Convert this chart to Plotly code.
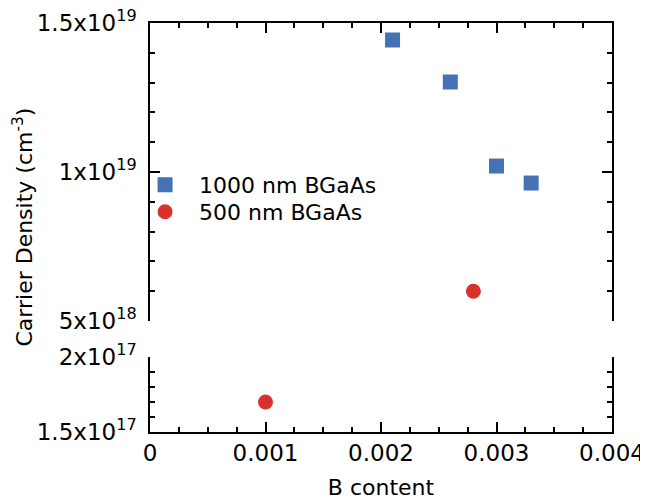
import plotly.graph_objects as go

# Data
b_1000 = [0.0021, 0.0026, 0.0030, 0.0033]
n_1000 = [1.443e19, 1.302e19, 1.02e19, 9.63e18]
b_500 = [0.0010, 0.0028]
n_500 = [1.70e17, 6.0e18]

x_ticks = [0, 0.001, 0.002, 0.003, 0.004]
x_ticktext = ["0", "0.001", "0.002", "0.003", "0.004"]
top_ticks = [5e18, 1e19, 1.5e19]
top_ticktext = ["5x10<sup>18</sup>", "1x10<sup>19</sup>", "1.5x10<sup>19</sup>"]
bot_ticks = [1.5e17, 2e17]
bot_ticktext = ["1.5x10<sup>17</sup>", "2x10<sup>17</sup>"]

BLUE = "#4472b4"
RED = "#d9312b"
FONT = "DejaVu Sans"
FS = 22
FT = 23

def split(xs, ys, lo, hi):
    px, py = [], []
    for a, b in zip(xs, ys):
        if lo <= b <= hi:
            px.append(a); py.append(b)
    return px, py

fig = go.Figure()
# top panel
tx, ty = split(b_1000, n_1000, 5e18, 1.5e19)
fig.add_trace(go.Scatter(x=tx, y=ty, mode="markers", name="1000 nm BGaAs",
                         marker=dict(symbol="square", size=15, color=BLUE),
                         xaxis="x2", yaxis="y2", legendgroup="a", legend="legend"))
tx, ty = split(b_500, n_500, 5e18, 1.5e19)
fig.add_trace(go.Scatter(x=tx, y=ty, mode="markers", name="500 nm BGaAs",
                         marker=dict(symbol="circle", size=15, color=RED),
                         xaxis="x2", yaxis="y2", legendgroup="b", legend="legend2"))
# bottom panel
bx, by = split(b_1000, n_1000, 1.5e17, 2e17)
fig.add_trace(go.Scatter(x=bx, y=by, mode="markers", name="1000 nm BGaAs",
                         marker=dict(symbol="square", size=15, color=BLUE),
                         xaxis="x", yaxis="y", legendgroup="a", showlegend=False))
bx, by = split(b_500, n_500, 1.5e17, 2e17)
fig.add_trace(go.Scatter(x=bx, y=by, mode="markers", name="500 nm BGaAs",
                         marker=dict(symbol="circle", size=15, color=RED),
                         xaxis="x", yaxis="y", legendgroup="b", showlegend=False))

axis_common = dict(showline=True, linecolor="black", linewidth=1.5,
                   ticks="inside", tickcolor="black", tickwidth=1.5, ticklen=10,
                   showgrid=False, zeroline=False, automargin=False,
                   ticklabeloverflow="allow",
                   tickfont=dict(family=FONT, size=FT, color="black"))

legend_common = dict(xanchor="left", yanchor="middle", bgcolor="rgba(0,0,0,0)",
                     font=dict(family=FONT, size=FS), itemwidth=58)

fig.update_layout(
    width=640, height=495,
    paper_bgcolor="white", plot_bgcolor="white",
    margin=dict(l=142, r=36, t=15, b=71),
    font=dict(family=FONT, size=FS, color="black"),
    xaxis=dict(**axis_common, range=[0, 0.004], tickmode="array",
               tickvals=x_ticks, ticktext=x_ticktext, anchor="y",
               minor=dict(tickmode="linear", tick0=0, dtick=0.00025, ticks="inside",
                          ticklen=5, tickcolor="black", tickwidth=1.5),
               title=dict(text="B content", font=dict(family=FONT, size=FS), standoff=14)),
    xaxis2=dict(**axis_common, range=[0, 0.004], tickmode="array",
                tickvals=x_ticks, showticklabels=False, anchor="y2", side="top",
                matches="x",
                minor=dict(tickmode="linear", tick0=0, dtick=0.00025, ticks="inside",
                           ticklen=5, tickcolor="black", tickwidth=1.5)),
    yaxis=dict(**axis_common, domain=[0, 75/409], range=[1.5e17, 2e17],
               tickmode="array", tickvals=bot_ticks, ticktext=bot_ticktext,
               anchor="x", mirror="ticks", ticklabelstandoff=7,
               minor=dict(tickmode="linear", tick0=0, dtick=1e16, ticks="inside",
                          ticklen=5, tickcolor="black", tickwidth=1.5)),
    yaxis2=dict(**axis_common, domain=[111/409, 1], range=[5e18, 1.5e19],
                tickmode="array", tickvals=top_ticks, ticktext=top_ticktext,
                anchor="x2", mirror="ticks", ticklabelstandoff=7,
                minor=dict(tickmode="linear", tick0=0, dtick=1e18, ticks="inside",
                           ticklen=5, tickcolor="black", tickwidth=1.5)),
    legend=dict(**legend_common, x=-0.041, y=0.604),
    legend2=dict(**legend_common, x=-0.041, y=0.538),
    showlegend=True,
    annotations=[dict(text="Carrier Density (cm<sup>-3</sup>)", textangle=-90,
                      xref="paper", yref="paper", x=-0.277, y=0.5,
                      xanchor="center", yanchor="middle", showarrow=False,
                      font=dict(family=FONT, size=FS, color="black"))],
)

fig.write_html("out.html")
